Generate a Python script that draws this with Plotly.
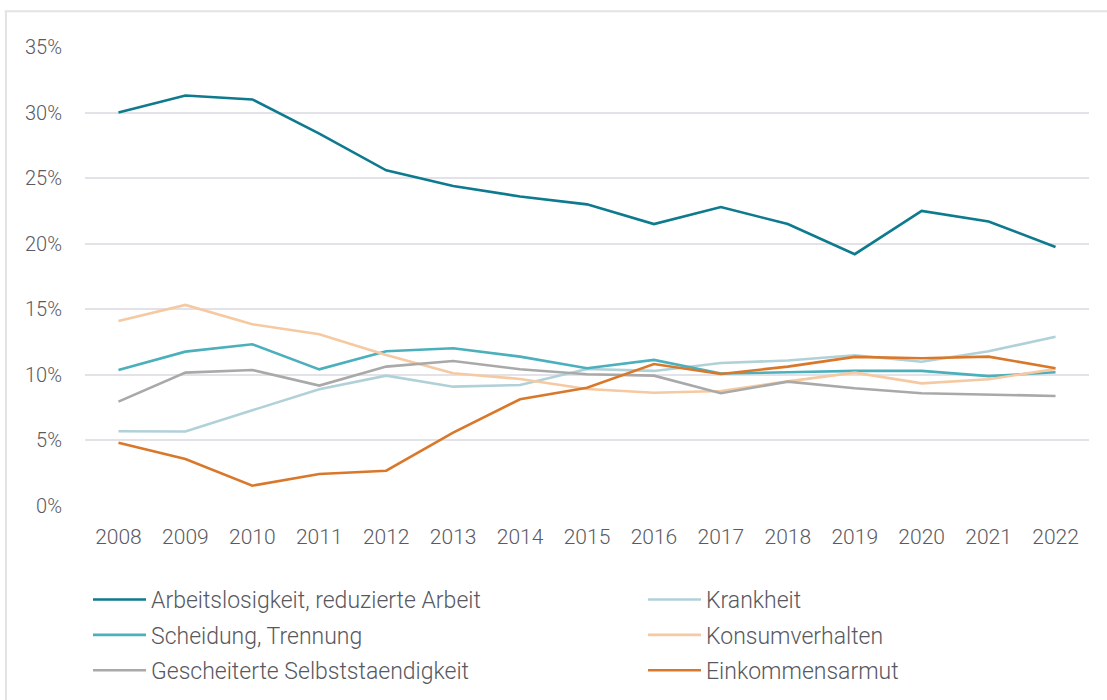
import plotly.graph_objects as go

years = [str(y) for y in range(2008, 2023)]

arbeitslosigkeit = [30.0, 31.3, 31.0, 28.4, 25.6, 24.4, 23.6, 23.0, 21.5, 22.8, 21.5, 19.2, 22.5, 21.7, 19.75]
krankheit = [5.7, 5.68, 7.3, 8.9, 9.94, 9.1, 9.23, 10.45, 10.3, 10.9, 11.1, 11.5, 11.0, 11.8, 12.9]
scheidung = [10.37, 11.77, 12.33, 10.42, 11.8, 12.03, 11.39, 10.5, 11.14, 10.1, 10.2, 10.3, 10.3, 9.9, 10.2]
konsum = [14.1, 15.33, 13.86, 13.1, 11.52, 10.12, 9.69, 8.92, 8.64, 8.77, 9.5, 10.17, 9.35, 9.66, 10.45]
gescheitert = [7.96, 10.17, 10.37, 9.18, 10.63, 11.06, 10.43, 10.05, 9.94, 8.6, 9.48, 8.98, 8.6, 8.47, 8.39]
einkommen = [4.83, 3.58, 1.55, 2.44, 2.69, 5.59, 8.14, 9.02, 10.83, 10.07, 10.63, 11.37, 11.27, 11.39, 10.5]

y_ticks = [0, 5, 10, 15, 20, 25, 30, 35]
y_labels = ["0%", "5%", "10%", "15%", "20%", "25%", "30%", "35%"]

# (name, values, colour, legend column)
series = [
    ("Arbeitslosigkeit, reduzierte Arbeit", arbeitslosigkeit, "#0d7a8e", "legend"),
    ("Krankheit", krankheit, "#b1d1d8", "legend2"),
    ("Scheidung, Trennung", scheidung, "#4bb0bc", "legend"),
    ("Konsumverhalten", konsum, "#f5c9a1", "legend2"),
    ("Gescheiterte Selbststaendigkeit", gescheitert, "#a9a9a9", "legend"),
    ("Einkommensarmut", einkommen, "#d9782a", "legend2"),
]

fig = go.Figure()
for i, (name, vals, col, lg) in enumerate(series):
    fig.add_trace(go.Scatter(x=years, y=vals, name=name, mode="lines",
                             legend=lg, legendgroup="g%d" % i,
                             line=dict(color=col, width=2.6)))

font_fam = "Roboto"
leg_common = dict(orientation="v", xanchor="left", yanchor="top", y=-0.157,
                  itemwidth=53, tracegroupgap=2.5, traceorder="grouped",
                  font=dict(size=23, color="#585860"), bgcolor="rgba(0,0,0,0)")

fig.update_layout(
    width=1107, height=700,
    margin=dict(l=85, r=18, t=47, b=194, autoexpand=False),
    paper_bgcolor="white", plot_bgcolor="white",
    font=dict(family=font_fam, size=20, color="#5a5a62", weight=300),
    xaxis=dict(type="category", range=[-0.5, 14.5], showgrid=False, showline=False,
               zeroline=False, ticks="", ticklabelstandoff=16,
               tickfont=dict(size=21, color="#5a5a62")),
    yaxis=dict(range=[0, 35], tickvals=y_ticks, ticktext=y_labels, showgrid=True,
               gridcolor="#e2e2e8", gridwidth=2, zeroline=False, showline=False,
               ticks="", ticklabelstandoff=22,
               tickfont=dict(size=20, color="#5a5a62")),
    legend=dict(x=0.003, **leg_common),
    legend2=dict(x=0.5558, **leg_common),
    showlegend=True,
)

fig.add_shape(type="line", xref="paper", yref="paper", x0=-0.08, x1=1.1, y0=1.078, y1=1.078,
              line=dict(color="#e3e3e6", width=2))
fig.add_shape(type="line", xref="paper", yref="paper", x0=-0.0787, x1=-0.0787, y0=1.078, y1=-0.5,
              line=dict(color="#e3e3e6", width=2))

fig.write_html("out.html", config={"displayModeBar": False},
               post_script="document.body.style.margin='0';document.body.style.padding='0';")
